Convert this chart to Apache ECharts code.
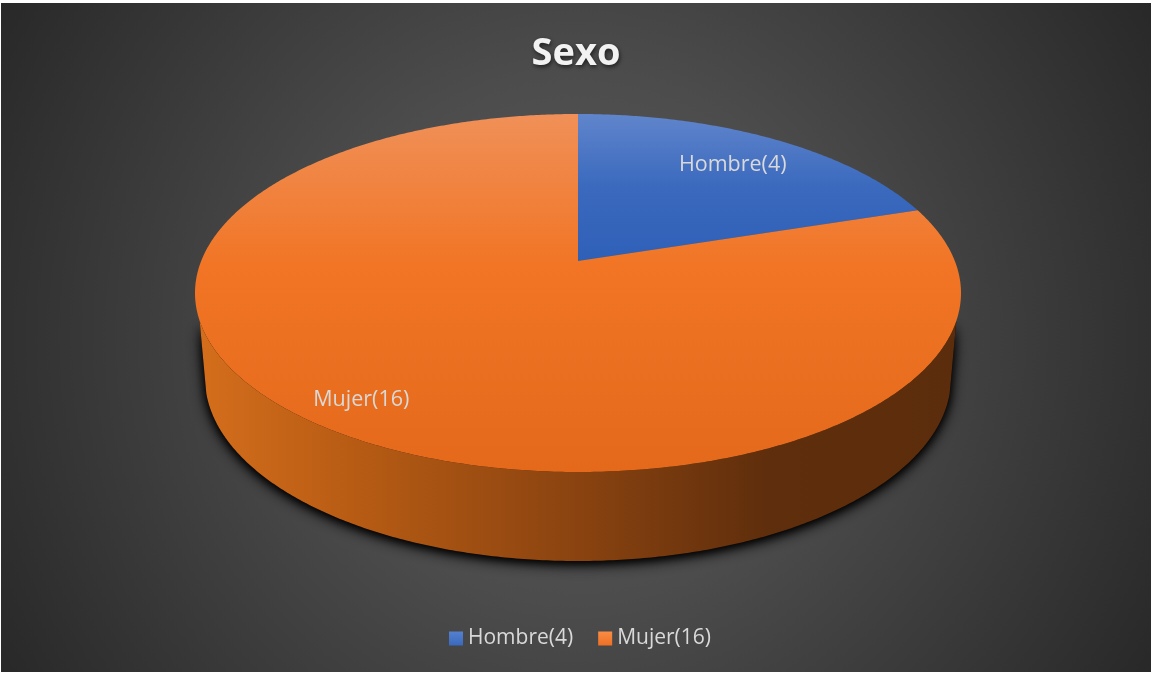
<!DOCTYPE html>
<html>
<head>
<meta charset="utf-8">
<style>
  html, body { margin: 0; padding: 0; background: #fff; }
  #main { width: 1152px; height: 674px; }
</style>
<script src="https://cdn.jsdelivr.net/npm/echarts@6/dist/echarts.min.js"></script>
</head>
<body>
<div id="main"></div>
<script>
var titleText = "Sexo";
var categories = ["Hombre(4)", "Mujer(16)"];
var values = [4, 16];

var FONT = '"Open Sans", sans-serif';
var total = values.reduce(function (a, b) { return a + b; }, 0);

// geometria del disco en pantalla
var cx = 578;
var topFace = { cy: 293, rx: 383, ry: 179 };
var bottomFace = { cy: 378, rx: 373, ry: 183 };
var apexY = 261;                 // el centro del pastel cae aqui por la perspectiva
var persp = (topFace.cy - apexY) / topFace.ry;
var wallFromY = 320;
var wallToY = 393;
var labelRadius = [0.777, 0.857];

// punto del disco: angulo horario desde arriba, r de 0 a 1
function project(face, deg, r) {
  var rad = deg * Math.PI / 180;
  var u = Math.sin(rad) * r;
  var v = Math.cos(rad) * r;
  var k = 1 + persp * v;
  return [
    cx + face.rx * u * Math.sqrt(1 - persp * persp) / k,
    face.cy - face.ry * (v + persp) / k
  ];
}

function arc(face, from, to) {
  var pts = [];
  var n = Math.ceil((to - from) * 2);
  for (var i = 0; i <= n; i++) {
    pts.push(project(face, from + (to - from) * i / n, 1));
  }
  return pts;
}

var faceFills = [
  new echarts.graphic.LinearGradient(0, 114, 0, 261, [
    { offset: 0, color: "#6085cc" },
    { offset: 0.5, color: "#3a69bd" },
    { offset: 1, color: "#2f60b8" }
  ], true),
  new echarts.graphic.LinearGradient(0, 114, 0, 472, [
    { offset: 0, color: "#f09058" },
    { offset: 0.42, color: "#f17525" },
    { offset: 1, color: "#e4691a" }
  ], true)
];
var legendFills = [
  new echarts.graphic.LinearGradient(0, 0, 0, 1, [
    { offset: 0, color: "#5580cf" },
    { offset: 1, color: "#3a69bd" }
  ]),
  new echarts.graphic.LinearGradient(0, 0, 0, 1, [
    { offset: 0, color: "#f98c45" },
    { offset: 1, color: "#ed7024" }
  ])
];
var wallFill = new echarts.graphic.LinearGradient(198, 0, 957, 0, [
  { offset: 0, color: "#d46e1c" },
  { offset: 0.2, color: "#b85c14" },
  { offset: 0.5, color: "#8a4310" },
  { offset: 0.75, color: "#5f2e0c" },
  { offset: 1, color: "#5c2d0c" }
], true);

function renderSlice(index) {
  return function (params, api) {
    var before = values.slice(0, index).reduce(function (a, b) { return a + b; }, 0);
    var start = before / total * 360;
    var end = start + api.value(0) / total * 360;
    var children = [];

    // pared: solo la parte del arco que queda por delante
    var topArc = arc(topFace, start, end);
    var wall = topArc.filter(function (p) { return p[1] >= wallFromY; });
    var wallBottom = arc(bottomFace, start, end).filter(function (p) { return p[1] >= wallToY; });
    if (wall.length) {
      var wallPoints = wall.concat(wallBottom.reverse());
      // sombra oscura bajo la pared
      children.push({
        type: "polygon",
        shape: { points: wallPoints },
        style: {
          fill: "#000",
          shadowBlur: 16,
          shadowColor: "#000",
          shadowOffsetY: 3
        }
      });
      children.push({
        type: "polygon",
        shape: { points: wallPoints },
        style: {
          fill: wallFill,
          shadowBlur: 8,
          shadowColor: "#000",
          shadowOffsetY: 2
        }
      });
    }

    children.push({
      type: "polygon",
      shape: { points: [project(topFace, 0, 0)].concat(topArc) },
      style: { fill: faceFills[index] }
    });

    var mid = project(topFace, (start + end) / 2, labelRadius[index]);
    children.push({
      type: "text",
      style: {
        text: categories[index],
        x: mid[0],
        y: mid[1] + 2,
        fill: "#d9d9d9",
        font: "21.5px " + FONT,
        align: "center",
        verticalAlign: "middle"
      }
    });
    return { type: "group", children: children };
  };
}

var chart = echarts.init(document.getElementById("main"));
chart.setOption({
  animation: false,
  graphic: [{
    type: "rect",
    z: -10,
    silent: true,
    shape: { x: 1, y: 3, width: 1150, height: 669 },
    style: {
      fill: new echarts.graphic.RadialGradient(576, 337, 680, [
        { offset: 0, color: "#5c5c5c" },
        { offset: 0.39, color: "#4c4c4c" },
        { offset: 0.52, color: "#444444" },
        { offset: 1, color: "#272727" }
      ], true)
    }
  }],
  title: {
    text: titleText,
    left: "center",
    top: 30,
    textStyle: {
      color: "#f2f2f2",
      fontFamily: FONT,
      fontSize: 38,
      fontWeight: "bold",
      textShadowColor: "rgba(0,0,0,0.6)",
      textShadowBlur: 4,
      textShadowOffsetX: 1,
      textShadowOffsetY: 2
    }
  },
  legend: {
    left: 449,
    top: 628,
    padding: 0,
    icon: "rect",
    itemWidth: 14,
    itemHeight: 14,
    itemGap: 25,
    data: categories.map(function (name, i) {
      return { name: name, itemStyle: { color: legendFills[i] } };
    }),
    textStyle: { color: "#d9d9d9", fontFamily: FONT, fontSize: 21 }
  },
  series: categories.map(function (name, i) {
    return {
      type: "custom",
      name: name,
      coordinateSystem: "none",
      silent: true,
      itemStyle: { color: legendFills[i] },
      renderItem: renderSlice(i),
      data: [[values[i]]]
    };
  })
});
</script>
</body>
</html>
